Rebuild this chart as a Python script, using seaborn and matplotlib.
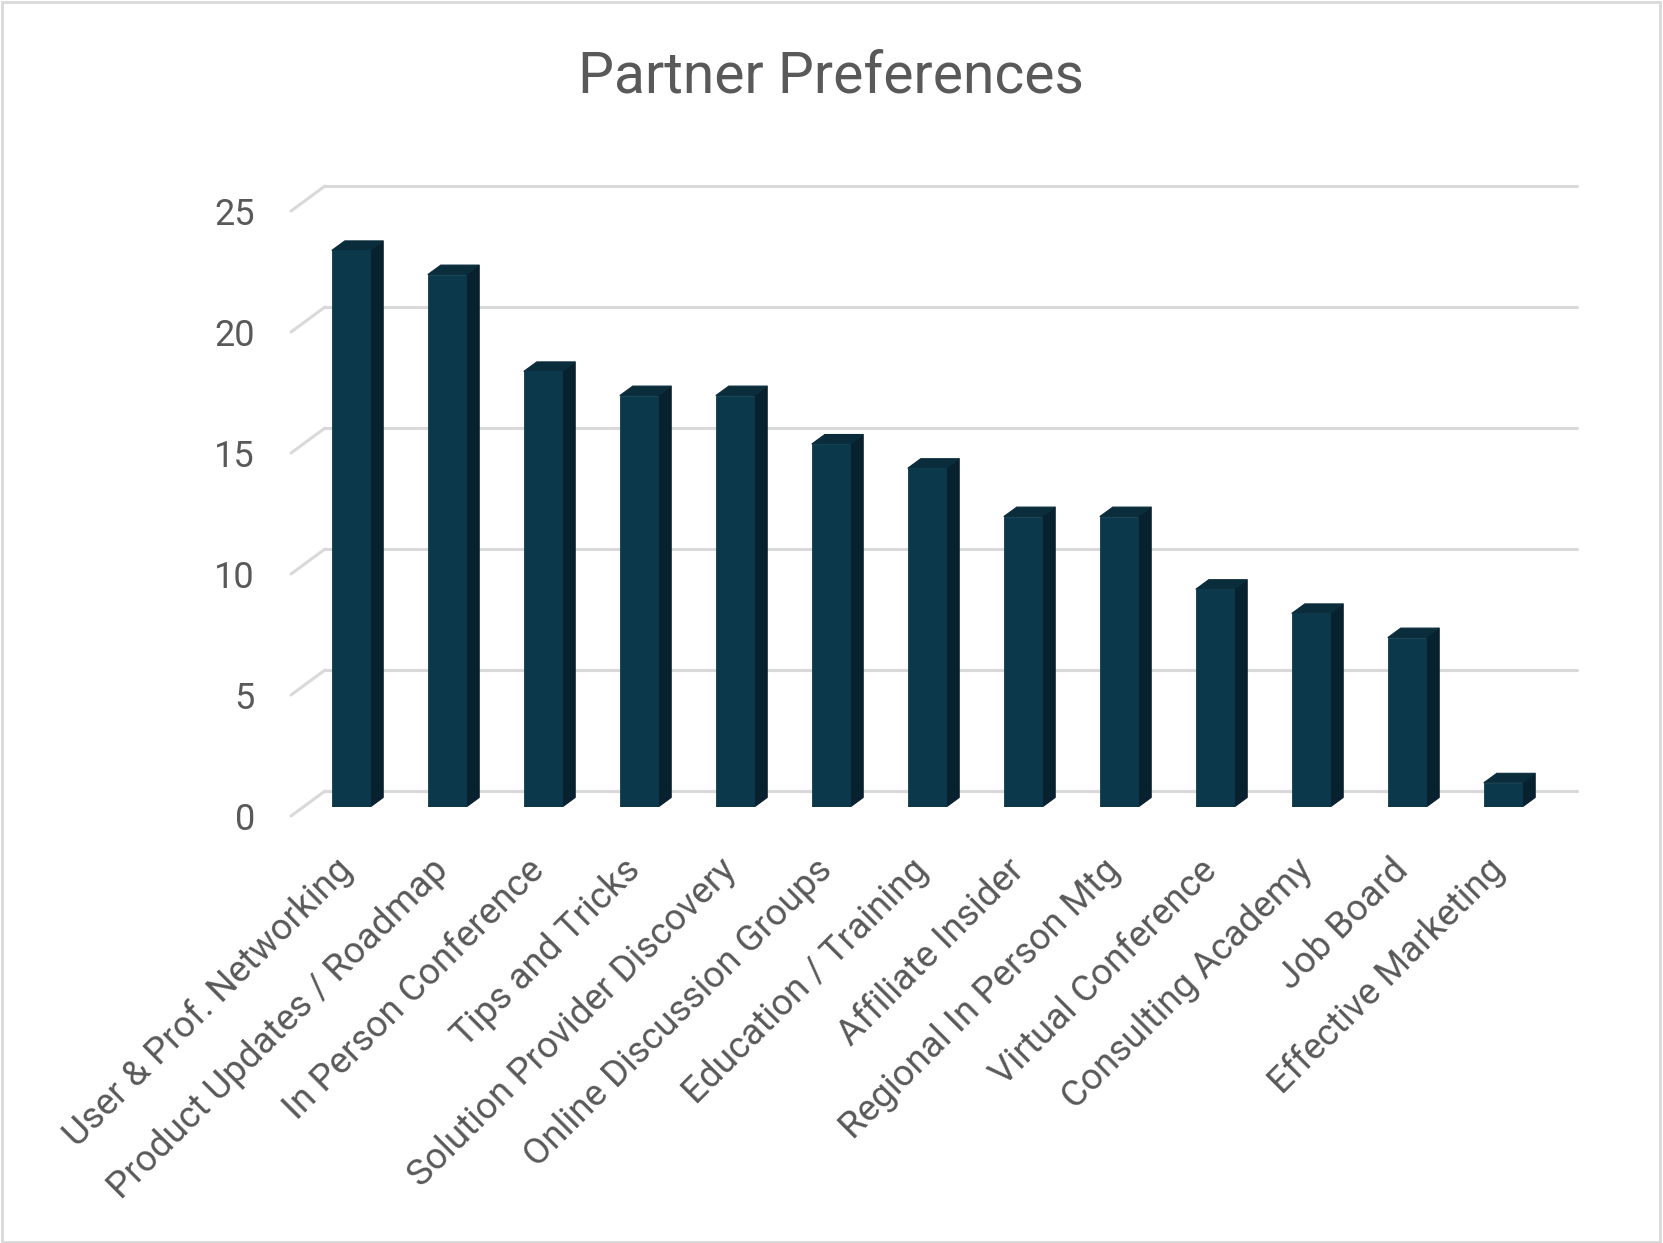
import numpy as np
import pandas as pd
import seaborn as sns
import matplotlib.pyplot as plt
import matplotlib.transforms as mtransforms
from matplotlib.patches import Polygon, Rectangle

# data
categories = ["User & Prof. Networking", "Product Updates / Roadmap", "In Person Conference",
              "Tips and Tricks", "Solution Provider Discovery", "Online Discussion Groups",
              "Education / Training", "Affiliate Insider", "Regional In Person Mtg",
              "Virtual Conference", "Consulting Academy", "Job Board", "Effective Marketing"]
counts = [23, 22, 18, 17, 17, 15, 14, 12, 12, 9, 8, 7, 1]
yticks = [0, 5, 10, 15, 20, 25]

df = pd.DataFrame({"category": categories, "count": counts})

sns.set_theme(style="white")
plt.rcParams['font.family'] = ['Roboto', 'DejaVu Sans']

W, H = 1663, 1243
fig = plt.figure(figsize=(W / 100, H / 100), dpi=100)
# axes = front plane of the bars (pixel box 303..1551 x, 202..807 y)
ax_l, ax_r, ax_t, ax_b = 303, 1551, 202, 807
ax = fig.add_axes([ax_l / W, 1 - ax_b / H, (ax_r - ax_l) / W, (ax_b - ax_t) / H])

front_c = "#0c384c"
side_c = "#07212e"
top_c = "#0a2c3b"
grid_c = "#d9d9d9"
text_c = "#595959"

sns.barplot(data=df, x="category", y="count", color=front_c, width=0.4,
            saturation=1, ax=ax, zorder=4, edgecolor=front_c, linewidth=0.6)
ax.set_xlim(-0.5, len(categories) - 0.5)
ax.set_ylim(0, 25)

px_x = (ax_r - ax_l) / len(categories)
px_y = (ax_b - ax_t) / 25.0

def off(dx, dy):
    return dx / px_x, dy / px_y

# bar depth (side + top)
bdx, bdy = off(13, 9.5)
for i, v in enumerate(counts):
    xl, xr = i - 0.2, i + 0.2
    ax.add_patch(Polygon([(xr, 0), (xr, v), (xr + bdx, v + bdy), (xr + bdx, bdy)],
                         closed=True, facecolor=side_c, edgecolor=side_c, lw=0.8, zorder=3))
    ax.add_patch(Polygon([(xl, v), (xr, v), (xr + bdx, v + bdy), (xl + bdx, v + bdy)],
                         closed=True, facecolor=top_c, edgecolor=top_c, lw=0.8, zorder=3))

# gridlines on the back wall plus floor diagonals
gbx, gby = off(22, 16)
gfx, gfy = off(-12, -9)
x0 = -0.5
for t in yticks:
    ax.plot([x0 + gbx, len(categories) - 0.5 + gbx + 0.04], [t + gby, t + gby],
            color=grid_c, lw=2.2, zorder=1, clip_on=False, solid_capstyle="round")
    ax.plot([x0 + gfx, x0 + gbx], [t + gfy, t + gby],
            color=grid_c, lw=2.2, zorder=1, clip_on=False, solid_capstyle="round")

for s in ax.spines.values():
    s.set_visible(False)
ax.set_xlabel("")
ax.set_ylabel("")
ax.set_yticks(yticks)
ax.set_yticklabels([str(t) for t in yticks], fontsize=26, color=text_c)
ax.tick_params(axis="y", length=0, pad=0)
shift_y = mtransforms.ScaledTranslation(-48 / 100, -9 / 100, fig.dpi_scale_trans)
for lab in ax.get_yticklabels():
    lab.set_transform(lab.get_transform() + shift_y)

ax.set_xticks(range(len(categories)))
ax.set_xticklabels(categories, rotation=45, ha="right", va="center",
                   rotation_mode="anchor", fontsize=26.5, color=text_c)
ax.tick_params(axis="x", length=0, pad=0)
shift_x = mtransforms.ScaledTranslation(-4 / 100, -58 / 100, fig.dpi_scale_trans)
for lab in ax.get_xticklabels():
    lab.set_transform(lab.get_transform() + shift_x)

fig.text(831 / W, 1 - 77 / H, "Partner Preferences", ha="center", va="center",
         fontsize=41, color=text_c)

# outer chart border
fig.patches.append(Rectangle((0.001, 0.001), 0.997, 0.997, transform=fig.transFigure,
                             fill=False, edgecolor="#d9d9d9", lw=2))

fig.savefig("out.png", dpi=100)
